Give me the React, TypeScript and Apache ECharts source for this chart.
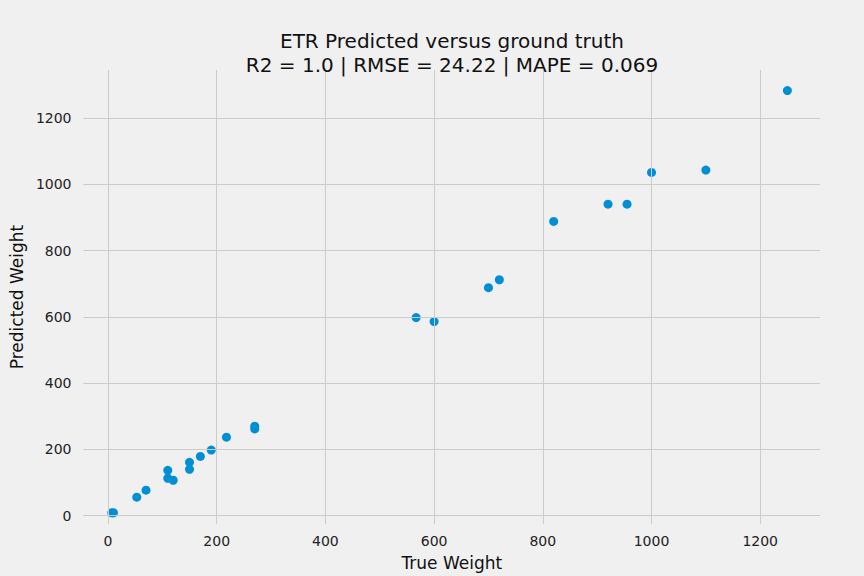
import { useEffect, useRef } from "react";
import * as echarts from "echarts";

const trueWeight = [1250, 1100, 1000, 955, 920, 820, 720, 700, 600, 567, 270, 270, 218, 190, 170, 150, 150, 120, 110, 110, 70, 53, 10, 7];
const predWeight = [1283, 1043, 1036, 940, 940, 888, 712, 688, 586, 598, 270, 262, 237, 198, 179, 161, 140, 107, 113, 137, 77, 56, 9, 9];
const gridTicks = [0, 200, 400, 600, 800, 1000, 1200];

export default function App() {
  const ref = useRef<HTMLDivElement>(null);

  useEffect(() => {
    document.body.style.margin = "0";
    if (!ref.current) return;
    const chart = echarts.init(ref.current, undefined, { renderer: "svg" });
    const font = "DejaVu Sans, sans-serif";
    const label = {
      fontSize: 14,
      color: "#222",
      fontFamily: font,
      formatter: (v: number) => (gridTicks.includes(v) ? String(v) : ""),
    };
    chart.setOption({
      animation: false,
      backgroundColor: "#f0f0f0",
      title: {
        text: "ETR Predicted versus ground truth\nR2 = 1.0 | RMSE = 24.22 | MAPE = 0.069",
        left: 447,
        textAlign: "center",
        top: 24,
        textStyle: { fontSize: 20, fontWeight: "normal", color: "#111", fontFamily: font, lineHeight: 24 },
      },
      grid: { left: 74, right: 44, top: 70, bottom: 50 },
      xAxis: {
        type: "value",
        min: -45,
        max: 1310,
        interval: 5,
        name: "True Weight",
        nameLocation: "middle",
        nameGap: 30,
        nameTextStyle: { fontSize: 17, color: "#111", fontFamily: font },
        axisLine: { show: false },
        axisTick: { show: false },
        splitLine: { show: false },
        axisLabel: { ...label, margin: 10 },
      },
      yAxis: {
        type: "value",
        min: -25,
        max: 1345,
        interval: 5,
        name: "Predicted Weight",
        nameLocation: "middle",
        nameGap: 52,
        nameTextStyle: { fontSize: 17, color: "#111", fontFamily: font },
        axisLine: { show: false },
        axisTick: { show: false },
        splitLine: { show: false },
        axisLabel: { ...label, margin: 12 },
      },
      series: [
        {
          type: "scatter",
          data: [],
          z: 1,
          silent: true,
          markLine: {
            silent: true,
            symbol: "none",
            label: { show: false },
            lineStyle: { color: "#cbcbcb", width: 1, type: "solid" },
            data: [
              ...gridTicks.map((t) => ({ xAxis: t })),
              ...gridTicks.map((t) => ({ yAxis: t })),
            ],
          },
        },
        {
          type: "scatter",
          z: 3,
          symbolSize: 9,
          itemStyle: { color: "#008fd5", opacity: 1 },
          data: trueWeight.map((x, i) => [x, predWeight[i]]),
        },
      ],
    });
    return () => chart.dispose();
  }, []);

  return <div ref={ref} style={{ width: 864, height: 576 }} />;
}
